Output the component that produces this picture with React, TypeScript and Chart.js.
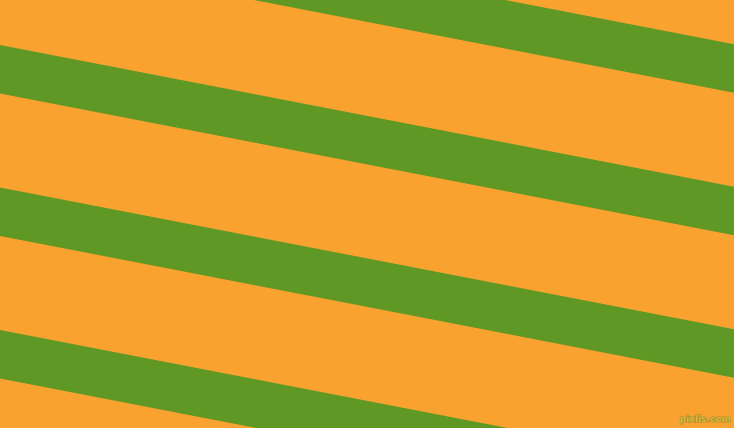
import React, { useEffect, useRef } from "react";
import { Chart, registerables } from "chart.js";

Chart.register(...registerables);

const WIDTH = 734;
const HEIGHT = 428;

// x positions where each stripe edge is sampled (left and right edge of the picture)
const edgeX = [0, 734];

// stripe edges: y value at the left (x=0) and at the right (x=734)
const stripeTopLeft = [-97.5, 45, 187.5, 330];
const stripeTopRight = [44.2, 186.7, 329.2, 471.7];
const stripeBottomLeft = [-49, 93.5, 236, 378.5];
const stripeBottomRight = [92.7, 235.2, 377.7, 520.2];

const ORANGE = "#F9A230";
const GREEN = "#5F9824";
const watermark = "pixlis.com";

export default function App() {
  const ref = useRef<HTMLCanvasElement | null>(null);

  useEffect(() => {
    if (!ref.current) return;
    const datasets: any[] = [];
    stripeTopLeft.forEach((_, i) => {
      datasets.push({
        label: `stripe ${i + 1} top`,
        data: [
          { x: edgeX[0], y: stripeTopLeft[i] },
          { x: edgeX[1], y: stripeTopRight[i] },
        ],
        borderWidth: 0,
        borderColor: "rgba(0,0,0,0)",
        pointRadius: 0,
        fill: false,
      });
      datasets.push({
        label: `stripe ${i + 1} bottom`,
        data: [
          { x: edgeX[0], y: stripeBottomLeft[i] },
          { x: edgeX[1], y: stripeBottomRight[i] },
        ],
        borderWidth: 0,
        borderColor: "rgba(0,0,0,0)",
        backgroundColor: GREEN,
        pointRadius: 0,
        fill: "-1",
      });
    });

    const bgPlugin = {
      id: "bg",
      beforeDraw(chart: any) {
        const c = chart.ctx;
        c.save();
        c.fillStyle = ORANGE;
        c.fillRect(0, 0, chart.width, chart.height);
        c.restore();
      },
      afterDraw(chart: any) {
        const c = chart.ctx;
        c.save();
        c.font = "bold 9px 'DejaVu Sans', sans-serif";
        c.textAlign = "right";
        c.textBaseline = "alphabetic";
        c.lineWidth = 1.2;
        c.strokeStyle = "#A08E2E";
        c.strokeText(watermark, chart.width - 3, chart.height - 6);
        c.fillStyle = "#D9B63A";
        c.fillText(watermark, chart.width - 3, chart.height - 6);
        c.restore();
      },
    };

    const chart = new Chart(ref.current, {
      type: "line",
      data: { datasets },
      options: {
        animation: false,
        responsive: false,
        events: [],
        layout: { padding: 0 },
        plugins: {
          legend: { display: false },
          tooltip: { enabled: false },
          filler: { propagate: false },
        },
        scales: {
          x: { type: "linear", min: 0, max: WIDTH, display: false },
          y: { type: "linear", min: 0, max: HEIGHT, reverse: true, display: false },
        },
      },
      plugins: [bgPlugin],
    });
    return () => chart.destroy();
  }, []);

  return (
    <div style={{ position: "fixed", left: 0, top: 0, width: WIDTH, height: HEIGHT, background: ORANGE }}>
      <canvas ref={ref} width={WIDTH} height={HEIGHT} style={{ display: "block" }} />
    </div>
  );
}
